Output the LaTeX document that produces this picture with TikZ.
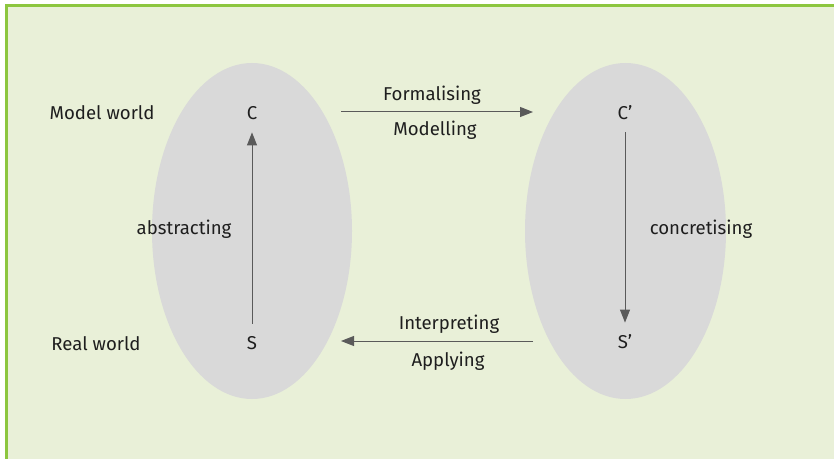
\documentclass[tikz,border=0pt]{standalone}
\usepackage{fontspec}
\setmainfont{Fira Sans}
\usetikzlibrary{arrows.meta}
\definecolor{bgpale}{HTML}{E9F0D8}
\definecolor{frameline}{HTML}{8DC63F}
\definecolor{blobgray}{HTML}{D9D9D9}
\definecolor{arrowgray}{HTML}{5A5A5A}
\definecolor{textdark}{HTML}{1E1E1E}
\tikzset{
  lbl/.style={font=\fontsize{9.3pt}{11pt}\selectfont, text=textdark, inner sep=0pt},
  pnt/.style={lbl, minimum height=19pt},
  arr/.style={draw=arrowgray, line width=0.5pt, -{Triangle[length=6.5pt,width=5pt]}},
}
\begin{document}
\begin{tikzpicture}[x=0.5pt,y=-0.5pt]
			\useasboundingbox (0,0) rectangle (834,459);
			\clip (0,0) rectangle (834,459);
			\fill[bgpale] (6,6) rectangle (840,465);
			\draw[frameline, line width=1.5pt] (6,470) -- (6,6) -- (840,6);
			
			\fill[blobgray] (252,231) ellipse [x radius=100, y radius=168];
			\fill[blobgray] (625.5,231) ellipse [x radius=100.5, y radius=168];
			
			\node[pnt] (C) at (252,113) {C};
			\node[pnt] (S) at (252,343) {S};
			\node[pnt] (Cp) at (625,113) {C’};
			\node[pnt] (Sp) at (625,342) {S’};
			
			\node[lbl] (model) at (102,113) {Model world};
			\node[lbl] (real) at (96,344) {Real world};
			\node[lbl] (abstr) at (184,229) {abstracting};
			\node[lbl] (concr) at (701,229) {concretising};
			
			\coordinate (fA) at (341,112);
			\coordinate (fB) at (533,112);
			\coordinate (iA) at (533,341);
			\coordinate (iB) at (341,341);
			
			\node[lbl] (form) at (432,95) {Formalising};
			\node[lbl] (modl) at (435,130) {Modelling};
			\node[lbl] (interp) at (449,324) {Interpreting};
			\node[lbl] (appl) at (448,361) {Applying};
			
			\draw[arr] (fA) to (fB);
			\draw[arr] (iA) to (iB);
			\draw[arr] (S) to (C);
			\draw[arr] (Cp) to (Sp);
\end{tikzpicture}
\end{document}
